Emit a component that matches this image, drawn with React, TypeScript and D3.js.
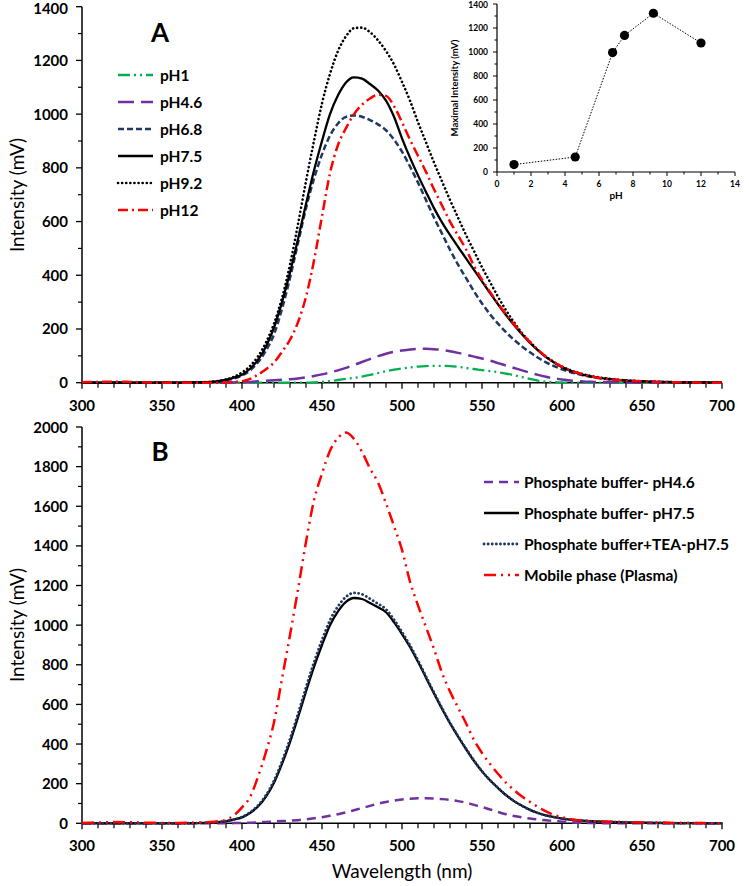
import React from "react";
import * as d3 from "d3";

// ---------- DATA ----------
const wavelengths = [
  300, 310, 320, 330, 340, 350, 360, 370, 380,
  385, 390, 395, 400, 405, 410, 415, 420, 425, 430,
  435, 440, 445, 450, 455, 460, 465, 470, 475, 480,
  485, 490, 495, 500, 505, 510, 515, 520, 525, 530,
  535, 540, 545, 550, 555, 560, 565, 570, 575, 580,
  585, 590, 595, 600, 605, 610, 615, 620,
  630, 640, 650, 660, 670, 680, 690, 700,
];

const pH1 = [
  0, 0, 0, 0, 0, 0, 0, 0, 0,
  0, 0, 0, 0, 0, 0, 0, 0, 0, 0,
  0, 0, 1, 3, 6, 10, 14, 18, 23, 29,
  36, 43, 49, 53, 57, 60, 62, 63, 63, 62,
  59, 55, 51, 47, 43, 39, 34, 28, 21, 14,
  8, 4, 2, 1, 0, 0, 0, 0,
  0, 0, 0, 0, 0, 0, 0, 0,
];

const pH4_6 = [
  0, 0, 0, 0, 0, 0, 0, 0, 0,
  0, 0, 1, 2, 3, 5, 7, 9, 11, 13,
  16, 20, 25, 31, 38, 46, 55, 66, 77, 88,
  99, 108, 115, 120, 124, 126, 126, 125, 122, 117,
  111, 104, 97, 90, 82, 73, 64, 55, 46, 37,
  29, 22, 16, 12, 8, 6, 4, 3,
  2, 1, 0, 0, 0, 0, 0, 0,
];

const pH6_8 = [
  0, 0, 0, 0, 0, 0, 0, 1, 2,
  4, 9, 16, 27, 46, 76, 120, 180, 275, 390,
  520, 650, 760, 850, 920, 965, 990, 995, 990, 978,
  962, 940, 905, 860, 805, 745, 680, 615, 555, 495,
  440, 390, 340, 295, 255, 220, 188, 160, 135, 113,
  93, 76, 62, 50, 40, 32, 25, 20,
  12, 8, 5, 3, 2, 1, 0, 0,
];

const pH7_5 = [
  0, 0, 0, 0, 0, 0, 0, 1, 3,
  6, 11, 19, 30, 52, 85, 135, 205, 300, 410,
  535, 665, 790, 900, 1000, 1070, 1118, 1137, 1132, 1112,
  1088, 1050, 990, 910, 838, 772, 710, 650, 597, 550,
  506, 463, 420, 377, 334, 292, 252, 215, 180, 148,
  120, 95, 75, 58, 45, 35, 27, 21,
  13, 8, 5, 3, 2, 1, 1, 0,
];

const pH9_2 = [
  0, 0, 0, 0, 0, 0, 0, 1, 3,
  6, 12, 22, 38, 62, 98, 150, 220, 315, 440,
  590, 750, 900, 1040, 1150, 1235, 1290, 1320, 1322, 1305,
  1275, 1235, 1185, 1120, 1050, 970, 895, 820, 750, 680,
  615, 550, 490, 430, 375, 320, 270, 225, 185, 152,
  122, 97, 77, 60, 47, 37, 29, 23,
  14, 9, 5, 3, 2, 1, 1, 0,
];

const pH12 = [
  2, 3, 4, 3, 1, 0, 0, 0, 0,
  0, 1, 3, 5, 14, 30, 50, 75, 115, 160,
  225, 320, 455, 620, 780, 885, 948, 1000, 1035, 1058,
  1072, 1068, 1030, 970, 905, 845, 785, 720, 660, 600,
  548, 497, 435, 384, 338, 295, 255, 218, 183, 151,
  122, 97, 76, 59, 46, 36, 28, 21,
  13, 8, 5, 3, 2, 1, 0, 0,
];

const phosphate4_6 = [
  0, 0, 0, 0, 0, 0, 0, 0, 0,
  0, 0, 1, 2, 3, 5, 7, 9, 11, 13,
  16, 20, 25, 31, 38, 46, 55, 66, 77, 88,
  99, 108, 115, 120, 124, 126, 126, 125, 122, 118,
  112, 104, 93, 82, 70, 57, 46, 37, 30, 24,
  19, 15, 12, 8, 5, 3, 2, 1,
  0, 0, 0, 0, 0, 0, 0, 0,
];

const phosphate7_5 = [
  0, 0, 0, 0, 0, 0, 0, 1, 3,
  6, 11, 19, 30, 52, 85, 135, 205, 300, 410,
  535, 665, 790, 900, 1000, 1070, 1118, 1137, 1132, 1112,
  1090, 1065, 1015, 955, 890, 815, 735, 655, 578, 505,
  438, 375, 315, 262, 217, 178, 142, 112, 88, 68,
  52, 40, 31, 24, 19, 15, 12, 10,
  7, 5, 3, 2, 1, 1, 0, 0,
];

const phosphateTEA7_5 = [
  0, 0, 0, 0, 0, 0, 0, 1, 3,
  6, 11, 20, 32, 55, 90, 142, 215, 312, 425,
  552, 685, 812, 925, 1025, 1095, 1143, 1163, 1156, 1133,
  1108, 1080, 1028, 965, 898, 822, 741, 660, 582, 508,
  440, 377, 317, 263, 218, 179, 143, 113, 88, 68,
  52, 40, 31, 24, 19, 15, 12, 10,
  7, 5, 3, 2, 1, 1, 0, 0,
];

const mobilePhase = [
  2, 4, 6, 5, 3, 2, 2, 3, 6,
  10, 18, 40, 80, 132, 235, 360, 510, 730, 950,
  1180, 1420, 1630, 1765, 1880, 1945, 1972, 1940, 1875, 1790,
  1720, 1615, 1500, 1380, 1220, 1100, 990, 880, 760, 665,
  585, 505, 420, 355, 300, 250, 205, 168, 135, 108,
  82, 60, 42, 31, 22, 16, 13, 11,
  8, 6, 4, 3, 2, 1, 1, 0,
];

const insetPH = [1, 4.6, 6.8, 7.5, 9.2, 12];
const insetMax = [62, 125, 995, 1138, 1323, 1075];

const xTickLabels = [300, 350, 400, 450, 500, 550, 600, 650, 700];
const yTickLabelsA = [0, 200, 400, 600, 800, 1000, 1200, 1400];
const yTickLabelsB = [0, 200, 400, 600, 800, 1000, 1200, 1400, 1600, 1800, 2000];
const insetXTicks = [0, 2, 4, 6, 8, 10, 12, 14];
const insetYTicks = [0, 200, 400, 600, 800, 1000, 1200, 1400];

// ---------- STYLES ----------
const FONT = "Lato, 'Open Sans', 'DejaVu Sans', sans-serif";

type Style = { color: string; dash?: string; width: number; cap?: "round" | "butt" };

const seriesA: { name: string; data: number[]; style: Style }[] = [
  { name: "pH1", data: pH1, style: { color: "#00B050", dash: "12 4 2 4 2 4", width: 2.3 } },
  { name: "pH4.6", data: pH4_6, style: { color: "#7030A0", dash: "16 7", width: 2.5 } },
  { name: "pH6.8", data: pH6_8, style: { color: "#1F3864", dash: "6 3", width: 2.5 } },
  { name: "pH7.5", data: pH7_5, style: { color: "#000000", width: 2.3 } },
  { name: "pH9.2", data: pH9_2, style: { color: "#000000", dash: "0.1 4", width: 2.6, cap: "round" } },
  { name: "pH12", data: pH12, style: { color: "#FF0000", dash: "10 4 2 4", width: 2.5 } },
];

const seriesB: { name: string; data: number[]; style: Style }[] = [
  { name: "Phosphate buffer- pH4.6", data: phosphate4_6, style: { color: "#7030A0", dash: "9 6", width: 2.5 } },
  { name: "Phosphate buffer- pH7.5", data: phosphate7_5, style: { color: "#000000", width: 2.3 } },
  { name: "Phosphate buffer+TEA-pH7.5", data: phosphateTEA7_5, style: { color: "#1F3864", dash: "0.1 4", width: 2.8, cap: "round" } },
  { name: "Mobile phase (Plasma)", data: mobilePhase, style: { color: "#FF0000", dash: "12 5 2 5 2 5", width: 2.5 } },
];

// ---------- SCALES ----------
const x = d3.scaleLinear().domain([300, 700]).range([82, 722]);
const yA = d3.scaleLinear().domain([0, 1400]).range([382.7, 6.7]);
const yB = d3.scaleLinear().domain([0, 2000]).range([823.3, 427]);
const xi = d3.scaleLinear().domain([0, 14]).range([497, 735]);
const yi = d3.scaleLinear().domain([0, 1400]).range([172, 4]);

function linePath(data: number[], y: d3.ScaleLinear<number, number>) {
  const gen = d3
    .line<number>()
    .x((_, i) => x(wavelengths[i]))
    .y((d) => y(d))
    .curve(d3.curveMonotoneX);
  return gen(data) || "";
}

function strokeProps(s: Style) {
  return {
    stroke: s.color,
    strokeWidth: s.width,
    strokeDasharray: s.dash,
    strokeLinecap: s.cap || "butt",
    fill: "none",
  } as any;
}

function MainAxes({ y, yTicks, minorStep, yMax }: { y: d3.ScaleLinear<number, number>; yTicks: number[]; minorStep: number; yMax: number }) {
  const y0 = y(0);
  const minorY = d3.range(0, yMax + 1, minorStep).filter((v) => !yTicks.includes(v));
  const minorX = d3.range(300, 701, 10).filter((v) => !xTickLabels.includes(v));
  return (
    <g>
      <line x1={x(300)} x2={x(300)} y1={y(yMax)} y2={y0} stroke="#000" strokeWidth={1.5} />
      <line x1={x(300)} x2={x(700)} y1={y0} y2={y0} stroke="#000" strokeWidth={1.5} />
      {yTicks.map((t) => (
        <g key={"y" + t}>
          <line x1={x(300) - 6} x2={x(300)} y1={y(t)} y2={y(t)} stroke="#000" strokeWidth={1.3} />
          <text x={68} y={Math.max(y(t) + 5.5, 14)} textAnchor="end" fontFamily={FONT} fontWeight={700} fontSize={15}>
            {t}
          </text>
        </g>
      ))}
      {minorY.map((t) => (
        <line key={"my" + t} x1={x(300) - 4} x2={x(300)} y1={y(t)} y2={y(t)} stroke="#000" strokeWidth={1.2} />
      ))}
      {xTickLabels.map((t) => (
        <g key={"x" + t}>
          <line x1={x(t)} x2={x(t)} y1={y0} y2={y0 + 6} stroke="#000" strokeWidth={1.3} />
          <text x={x(t)} y={y0 + 28} textAnchor="middle" fontFamily={FONT} fontWeight={700} fontSize={15}>
            {t}
          </text>
        </g>
      ))}
      {minorX.map((t) => (
        <line key={"mx" + t} x1={x(t)} x2={x(t)} y1={y0} y2={y0 + 5} stroke="#000" strokeWidth={1.2} />
      ))}
    </g>
  );
}

function Inset() {
  const line = d3
    .line<number>()
    .x((_, i) => xi(insetPH[i]))
    .y((d) => yi(d));
  const minorY = d3.range(100, 1400, 200);
  const minorX = d3.range(1, 14, 2);
  return (
    <g>
      <line x1={xi(0)} x2={xi(0)} y1={yi(1400)} y2={yi(0)} stroke="#000" strokeWidth={1.2} />
      <line x1={xi(0)} x2={xi(14)} y1={yi(0)} y2={yi(0)} stroke="#000" strokeWidth={1.2} />
      {insetYTicks.map((t) => (
        <g key={"iy" + t}>
          <line x1={xi(0) - 4} x2={xi(0)} y1={yi(t)} y2={yi(t)} stroke="#000" strokeWidth={1} />
          <text x={488} y={Math.max(yi(t) + 3, 8)} textAnchor="end" fontFamily={FONT} fontWeight={700} fontSize={8.5}>
            {t}
          </text>
        </g>
      ))}
      {minorY.map((t) => (
        <line key={"imy" + t} x1={xi(0) - 2.5} x2={xi(0)} y1={yi(t)} y2={yi(t)} stroke="#000" strokeWidth={1} />
      ))}
      {insetXTicks.map((t) => (
        <g key={"ix" + t}>
          <line x1={xi(t)} x2={xi(t)} y1={yi(0)} y2={yi(0) + 4} stroke="#000" strokeWidth={1} />
          <text x={xi(t)} y={yi(0) + 15} textAnchor="middle" fontFamily={FONT} fontWeight={700} fontSize={8.5}>
            {t}
          </text>
        </g>
      ))}
      {minorX.map((t) => (
        <line key={"imx" + t} x1={xi(t)} x2={xi(t)} y1={yi(0)} y2={yi(0) + 2.5} stroke="#000" strokeWidth={1} />
      ))}
      <text x={616} y={199} textAnchor="middle" fontFamily={FONT} fontWeight={700} fontSize={10}>
        pH
      </text>
      <text
        transform={`translate(458,88) rotate(-90)`}
        textAnchor="middle"
        fontFamily={FONT}
        fontWeight={700}
        fontSize={9.5}
      >
        Maximal Intensity (mV)
      </text>
      <path d={line(insetMax) || ""} fill="none" stroke="#000" strokeWidth={1} strokeDasharray="1.5 1.5" />
      {insetMax.map((v, i) => (
        <circle key={"pt" + i} cx={xi(insetPH[i])} cy={yi(v)} r={4.6} fill="#000" />
      ))}
    </g>
  );
}

export default function App() {
  return (
    <svg
      width={749}
      height={886}
      viewBox="0 0 749 886"
      style={{ position: "absolute", left: 0, top: 0, background: "#fff" }}
    >
      <rect x={0} y={0} width={749} height={886} fill="#fff" />

      {/* Panel A */}
      <MainAxes y={yA} yTicks={yTickLabelsA} minorStep={100} yMax={1400} />
      {seriesA.map((s) => (
        <path key={s.name} d={linePath(s.data, yA)} {...strokeProps(s.style)} />
      ))}
      <text transform="translate(24,195) rotate(-90)" textAnchor="middle" fontFamily={FONT} fontSize={19}>
        Intensity (mV)
      </text>
      <text x={160} y={42} textAnchor="middle" fontFamily={FONT} fontWeight={700} fontSize={26}>
        A
      </text>
      {seriesA.map((s, i) => {
        const ly = 75 + i * 27;
        return (
          <g key={"lgA" + s.name}>
            <line x1={118} x2={153} y1={ly} y2={ly} {...strokeProps(s.style)} />
            <text x={160} y={ly + 5.5} fontFamily={FONT} fontWeight={700} fontSize={15.5}>
              {s.name}
            </text>
          </g>
        );
      })}
      <Inset />

      {/* Panel B */}
      <MainAxes y={yB} yTicks={yTickLabelsB} minorStep={100} yMax={2000} />
      {seriesB.map((s) => (
        <path key={s.name} d={linePath(s.data, yB)} {...strokeProps(s.style)} />
      ))}
      <text transform="translate(24,625) rotate(-90)" textAnchor="middle" fontFamily={FONT} fontSize={19}>
        Intensity (mV)
      </text>
      <text x={160} y={461} textAnchor="middle" fontFamily={FONT} fontWeight={700} fontSize={26}>
        B
      </text>
      {seriesB.map((s, i) => {
        const ly = 482 + i * 31;
        return (
          <g key={"lgB" + s.name}>
            <line x1={484} x2={519} y1={ly} y2={ly} {...strokeProps(s.style)} />
            <text x={524} y={ly + 5.5} fontFamily={FONT} fontWeight={700} fontSize={15.5}>
              {s.name}
            </text>
          </g>
        );
      })}
      <text x={402} y={878} textAnchor="middle" fontFamily={FONT} fontSize={19}>
        Wavelength (nm)
      </text>
    </svg>
  );
}
